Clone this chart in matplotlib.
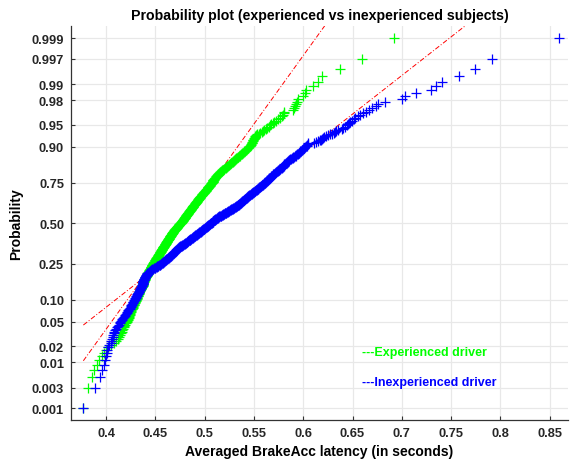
from statistics import NormalDist
import numpy as np
import matplotlib
matplotlib.use('Agg')
import matplotlib.pyplot as plt

plt.rcParams['font.family'] = ['Liberation Sans', 'DejaVu Sans']
plt.rcParams['font.weight'] = 'bold'

TITLE = 'Probability plot (experienced vs inexperienced subjects)'
X_LABEL = 'Averaged BrakeAcc latency (in seconds)'
Y_LABEL = 'Probability'

# sorted averaged latencies (ms), 500 subjects-trials per group
experienced_ms = [
    377, 382, 386, 388, 391, 393, 396, 398, 400, 402, 405, 408, 410, 412, 413, 414, 415,
    416, 416, 417, 418, 418, 419, 420, 421, 421, 422, 422, 423, 423,
    423, 424, 424, 424, 425, 425, 425, 426, 426, 427, 427, 427, 428, 428, 428, 429, 429, 429, 430, 430,
    430, 431, 431, 431, 431, 432, 432, 432, 432, 433, 433, 433, 433,
    433, 434, 434, 434, 435, 435, 435, 435, 436, 436, 436, 437,
    437, 437, 437, 438, 438, 438, 438, 439, 439, 439, 439, 440, 440,
    440, 440, 440, 441, 441, 441, 441, 442, 442, 442, 442, 443,
    443, 443, 443, 443, 444, 444, 444, 444, 445, 445, 445, 445, 446,
    446, 446, 446, 446, 447, 447, 447, 447, 447, 448, 448, 448,
    448, 449, 449, 449, 449, 449, 450, 450, 450, 450, 451, 451, 451, 451, 451, 452, 452, 452, 452, 453, 453, 453, 453, 453, 454,
    454, 454, 454, 455, 455, 455, 455, 455, 456, 456, 456, 456, 456, 457, 457, 457, 457, 457, 458, 458, 458, 458, 458, 459, 459,
    459, 459, 459, 460, 460, 460, 460, 460, 461, 461, 461, 461, 461, 462, 462, 462, 462, 462, 463, 463, 463, 463, 463, 464, 464,
    464, 464, 464, 465, 465, 465, 465, 465, 466, 466, 466, 466, 466, 467, 467, 467, 467, 467, 468, 468, 468, 468, 468, 469, 469,
    469, 469, 470, 470, 470, 470, 471, 471, 471, 471, 472, 472, 472, 472, 473, 473, 473, 473, 474, 474, 474, 474, 475, 475, 475,
    476, 476, 476, 476, 477, 477, 477, 477, 478, 478, 478, 478, 478, 479, 479, 479, 479, 480, 480, 480, 480, 480, 481, 481, 481,
    481, 481, 482, 482, 482, 482, 483, 483, 483, 483, 483, 484, 484, 484, 484, 485, 485, 485, 485,
    486, 486, 486, 486, 486, 487, 487, 487, 487, 488, 488, 488, 488, 488,
    489, 489, 489, 489, 490, 490, 490, 490, 491, 491, 491, 491, 492, 492, 492, 492,
    493, 493, 493, 493, 494, 494, 494, 494, 495, 495, 495, 495, 496, 496, 496, 497,
    497, 497, 497, 498, 498, 498, 499, 499, 499, 499, 500, 500, 500, 501, 501, 501, 501, 502, 502, 502,
    503, 503, 503, 503, 504, 504, 504, 505, 505, 505, 505, 506, 506, 506, 507,
    507, 507, 508, 508, 508, 509, 509, 509, 510, 510, 510, 511, 511, 511, 512, 512, 512, 513, 513, 513, 514, 514, 514, 515, 515, 515,
    516, 516, 517, 518, 518, 519, 519, 520, 520, 521, 522, 522, 523, 523, 524, 525, 525, 526, 526, 527, 527, 528, 529, 529, 530, 530, 531, 531,
    532, 532, 533, 534, 534, 535, 536, 536, 537, 538, 538, 539, 540, 540, 541, 542, 542, 543, 544, 544, 545,
    546, 546, 547, 547, 548, 548, 548, 549, 549, 549, 550, 550, 551, 551,
    552, 553, 555, 556, 558, 559, 560, 562, 563, 565, 566,
    567, 569, 570, 572, 574, 576, 578, 579, 580, 581,
    590, 591, 592, 593, 594, 595, 600, 602, 603, 610, 615, 619, 637, 660, 692,
]

inexperienced_ms = [
    377, 389, 394, 396, 398, 399, 400, 401, 401, 402, 403, 405, 405,
    406, 407, 407, 408, 408, 409, 410, 411, 412, 413, 414, 414, 415, 416, 416, 417, 418,
    419, 419, 420, 421, 421, 422, 422, 423, 424, 424, 425, 425, 425, 426, 426, 427, 427, 427, 428, 428,
    429, 429, 429, 430, 430, 430, 431, 431, 431, 432, 432, 432, 433,
    433, 433, 434, 434, 434, 434, 435, 435, 435, 435, 436, 436,
    436, 436, 437, 437, 437, 437, 438, 438, 438, 438, 439, 439, 439,
    439, 440, 440, 440, 440, 441, 441, 441, 441, 442, 442, 442,
    442, 443, 443, 444, 444, 445, 445, 446, 446, 447, 447, 448, 449,
    450, 450, 451, 452, 452, 453, 453, 454, 455, 455, 456, 456,
    457, 457, 458, 458, 458, 459, 459, 460, 460, 461, 461, 461, 462, 462, 463, 463, 464, 464, 464, 465, 465, 466, 466, 467, 467,
    467, 467, 468, 468, 468, 469, 469, 469, 470, 470, 470, 471, 471, 471, 472, 472, 472, 473, 473, 473, 474, 474, 474, 475, 475,
    476, 476, 477, 477, 478, 478, 479, 479, 480, 480, 481, 481, 482,
    482, 482, 483, 483, 483, 484, 484, 485, 485, 485, 486, 486,
    487, 487, 488, 488, 488, 489, 489, 490, 490, 490, 491, 491, 492, 492, 492, 493, 493, 494, 494, 494, 495, 495, 496, 496, 496,
    497, 497, 497, 498, 498, 499, 499, 499, 500, 500, 500, 501, 501, 502, 502, 502, 503, 503, 503, 504, 504, 505, 505, 505, 506,
    506, 506, 507, 507, 508, 508, 508, 509, 509, 510, 510, 511, 511, 511, 512, 512, 513, 513, 514, 514, 514, 515, 515, 516, 517,
    517, 518, 518, 519, 519, 520, 520, 521, 521, 522, 522, 523, 523, 524, 524, 525, 525,
    526, 526, 527, 527, 528, 528, 529, 529, 530, 530, 531, 531, 532, 532, 533, 533,
    534, 534, 534, 535, 535, 535, 536, 536, 537, 537, 537, 538, 538, 538, 539, 539,
    540, 540, 540, 541, 541, 541, 542, 542, 543, 543, 543, 544, 544, 544, 545, 545,
    546, 546, 547, 547, 548, 548, 548, 549, 549, 550, 550, 551, 551, 551, 552, 552, 553, 553,
    554, 554, 554, 555, 555, 556, 556, 557, 557, 557, 558, 558, 559, 559, 560, 560, 561,
    561, 561, 562, 562, 563, 563, 563, 564, 564, 565, 565, 565, 566, 566, 567, 567, 567, 568, 568, 569, 569, 569, 570, 570, 571, 571,
    572, 572, 573, 574, 574, 575, 575, 576, 576, 577, 578, 578, 579, 579, 580, 580,
    581, 581, 582, 583, 583, 584, 584, 585, 585, 586, 586, 587,
    588, 589, 590, 590, 591, 592, 593, 593, 594, 595, 596, 596,
    597, 597, 598, 599, 599, 600, 601, 601, 602, 603, 604,
    604, 605, 605, 611, 613, 615, 617, 618, 619, 620, 621, 623, 625, 627, 629, 631, 632, 633, 635,
    639, 640, 642, 644, 645, 646, 647, 649, 651, 653, 656, 658, 661, 664, 667, 670, 674, 676,
    683, 700, 703, 714, 730, 735, 741, 758, 774, 791, 859,
]

GROUP_LABELS = ['---Experienced driver', '---Inexperienced driver']
GROUP_COLORS = ['#00ff00', '#0000ff']

PROB_TICKS = [0.001, 0.003, 0.01, 0.02, 0.05, 0.10, 0.25, 0.50, 0.75, 0.90, 0.95, 0.98, 0.99, 0.997, 0.999]
PROB_TICK_LABELS = ['0.001', '0.003', '0.01', '0.02', '0.05', '0.10', '0.25', '0.50',
                    '0.75', '0.90', '0.95', '0.98', '0.99', '0.997', '0.999']
X_TICKS = [0.4, 0.45, 0.5, 0.55, 0.6, 0.65, 0.7, 0.75, 0.8, 0.85]

_nd = NormalDist()
_ppf = np.vectorize(_nd.inv_cdf, otypes=[float])
_cdf = np.vectorize(_nd.cdf, otypes=[float])


def prob_to_z(p):
    p = np.clip(np.asarray(p, dtype=float), 1e-12, 1 - 1e-12)
    return _ppf(p)


def z_to_prob(z):
    return _cdf(np.asarray(z, dtype=float))


def normplot(ax, values_ms, color):
    x = np.sort(np.asarray(values_ms, dtype=float)) / 1000.0
    n = len(x)
    p = (np.arange(1, n + 1) - 0.5) / n
    # reference line through the quartiles (like MATLAB normplot)
    q1, q3 = np.percentile(x, [25, 75], method='hazen')
    z1, z3 = _nd.inv_cdf(0.25), _nd.inv_cdf(0.75)
    slope = (z3 - z1) / (q3 - q1)
    xs = np.array([x.min(), x.max()])
    zs = z1 + slope * (xs - q1)
    ax.plot(xs, z_to_prob(zs), color='red', lw=0.7, linestyle=(0, (5, 2, 1, 2)), zorder=2)
    ax.plot(x, p, linestyle='none', marker='+', color=color, ms=7, mew=0.9, zorder=3)


fig = plt.figure(figsize=(5.7, 4.64), dpi=100)
ax = fig.add_axes([0.1246, 0.0927, 0.872, 0.849])
ax.set_yscale('function', functions=(prob_to_z, z_to_prob))

for vals, col in zip([experienced_ms, inexperienced_ms], GROUP_COLORS):
    normplot(ax, vals, col)

ax.set_xlim(0.3645, 0.8686)
ax.set_ylim(_nd.cdf(-3.287), _nd.cdf(3.295))
ax.set_xticks(X_TICKS)
ax.set_xticklabels(['%g' % t for t in X_TICKS])
ax.set_yticks(PROB_TICKS)
ax.set_yticklabels(PROB_TICK_LABELS)
ax.minorticks_off()

ax.grid(True, color='#e8e8e8', lw=0.9)
ax.set_axisbelow(True)
for s in ['top', 'right']:
    ax.spines[s].set_visible(False)
for s in ['left', 'bottom']:
    ax.spines[s].set_color('#333333')
    ax.spines[s].set_linewidth(0.9)
ax.tick_params(direction='in', length=3, width=0.8, color='#333333',
               labelsize=9.3, labelcolor='#262626', pad=5)

ax.set_title(TITLE, fontsize=10.2, fontweight='bold', pad=5)
ax.set_xlabel(X_LABEL, fontsize=10, fontweight='bold', labelpad=4)
ax.set_ylabel(Y_LABEL, fontsize=10, fontweight='bold', labelpad=6)

ax.text(0.585, 0.1734, GROUP_LABELS[0], color=GROUP_COLORS[0], transform=ax.transAxes,
        fontsize=9, fontweight='bold', va='center', ha='left')
ax.text(0.585, 0.0957, GROUP_LABELS[1], color=GROUP_COLORS[1], transform=ax.transAxes,
        fontsize=9, fontweight='bold', va='center', ha='left')

fig.savefig('out.png', dpi=100)
